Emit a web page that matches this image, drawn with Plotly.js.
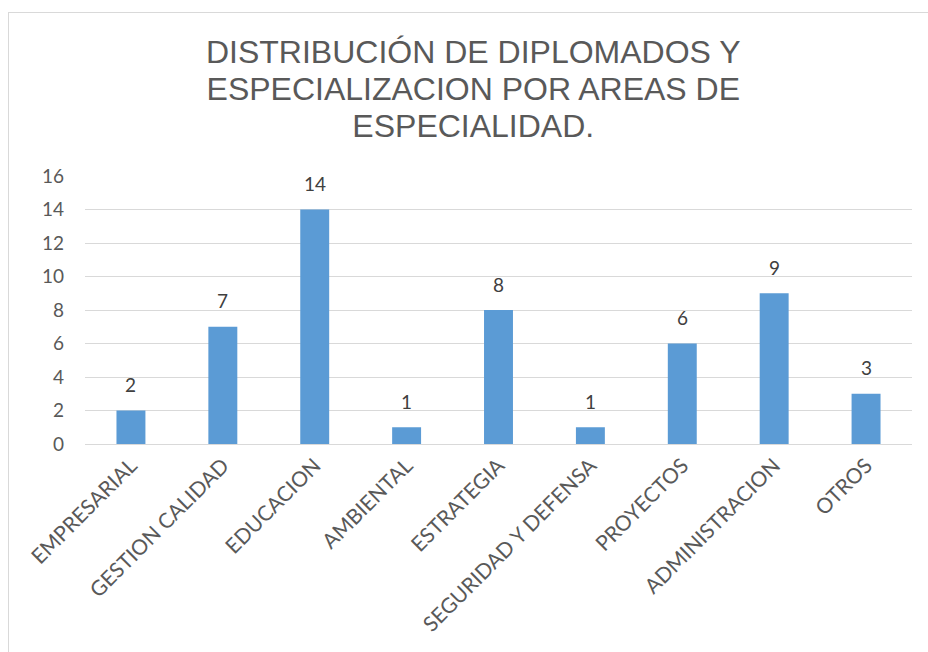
<!DOCTYPE html>
<html>
<head>
<meta charset="utf-8">
<script src="https://cdn.plot.ly/plotly-3.0.1.min.js"></script>
<style>
html,body{margin:0;padding:0;overflow:hidden;background:#fff;}
#frame{position:absolute;left:8px;top:12px;width:1200px;height:1200px;border:1px solid #d9d9d9;box-sizing:border-box;}
#chart{position:absolute;left:0;top:0;width:928px;height:652px;}
</style>
</head>
<body>
<div id="frame"></div>
<div id="chart"></div>
<script>
const categories = ["EMPRESARIAL","GESTION CALIDAD","EDUCACION","AMBIENTAL","ESTRATEGIA","SEGURIDAD Y DEFENSA","PROYECTOS","ADMINISTRACION","OTROS"];
const values = [2,7,14,1,8,1,6,9,3];
const yTicks = [0,2,4,6,8,10,12,14,16];
const titleLines = ["DISTRIBUCIÓN DE DIPLOMADOS Y", "ESPECIALIZACION POR AREAS DE", "ESPECIALIDAD."];

const labelFont = {family: "Lato, 'Liberation Sans', sans-serif", size: 19, color: "#404040"};

const trace = {
  type: "bar",
  x: categories,
  y: values,
  marker: {color: "#5B9BD5"},
  hoverinfo: "x+y"
};

const annotations = categories.map((c, i) => ({
  x: c, y: values[i], xref: "x", yref: "y",
  text: String(values[i]),
  showarrow: false,
  yanchor: "middle",
  yshift: 26,
  font: labelFont
}));

const layout = {
  width: 928, height: 652,
  paper_bgcolor: "rgba(0,0,0,0)",
  plot_bgcolor: "rgba(0,0,0,0)",
  margin: {l: 85, r: 16, t: 176, b: 208},
  bargap: 0.685,
  showlegend: false,
  annotations: annotations,
  title: {
    text: titleLines.map(s => '<span style="font-size:32px">' + s + '</span>').join("<br>"),
    font: {family: "'Liberation Sans', Arial, sans-serif", size: 28.5, color: "#595959"},
    x: 0.51, xanchor: "center",
    y: 0.903, yanchor: "top"
  },
  xaxis: {
    type: "category",
    tickangle: -45,
    tickfont: {family: "Lato, 'Liberation Sans', sans-serif", size: 21, color: "#595959"},
    showgrid: false,
    showline: true,
    linecolor: "#d9d9d9",
    linewidth: 1,
    ticks: "",
    automargin: false
  },
  yaxis: {
    range: [0, 16],
    tickvals: yTicks,
    ticktext: yTicks.map(String),
    tickfont: {family: "Lato, 'Liberation Sans', sans-serif", size: 19, color: "#595959"},
    gridcolor: "#d9d9d9",
    gridwidth: 1,
    zeroline: false,
    showline: false,
    ticks: "",
    ticklabelstandoff: 20,
    automargin: false
  }
};

Plotly.newPlot("chart", [trace], layout, {staticPlot: true, displayModeBar: false});
</script>
</body>
</html>
